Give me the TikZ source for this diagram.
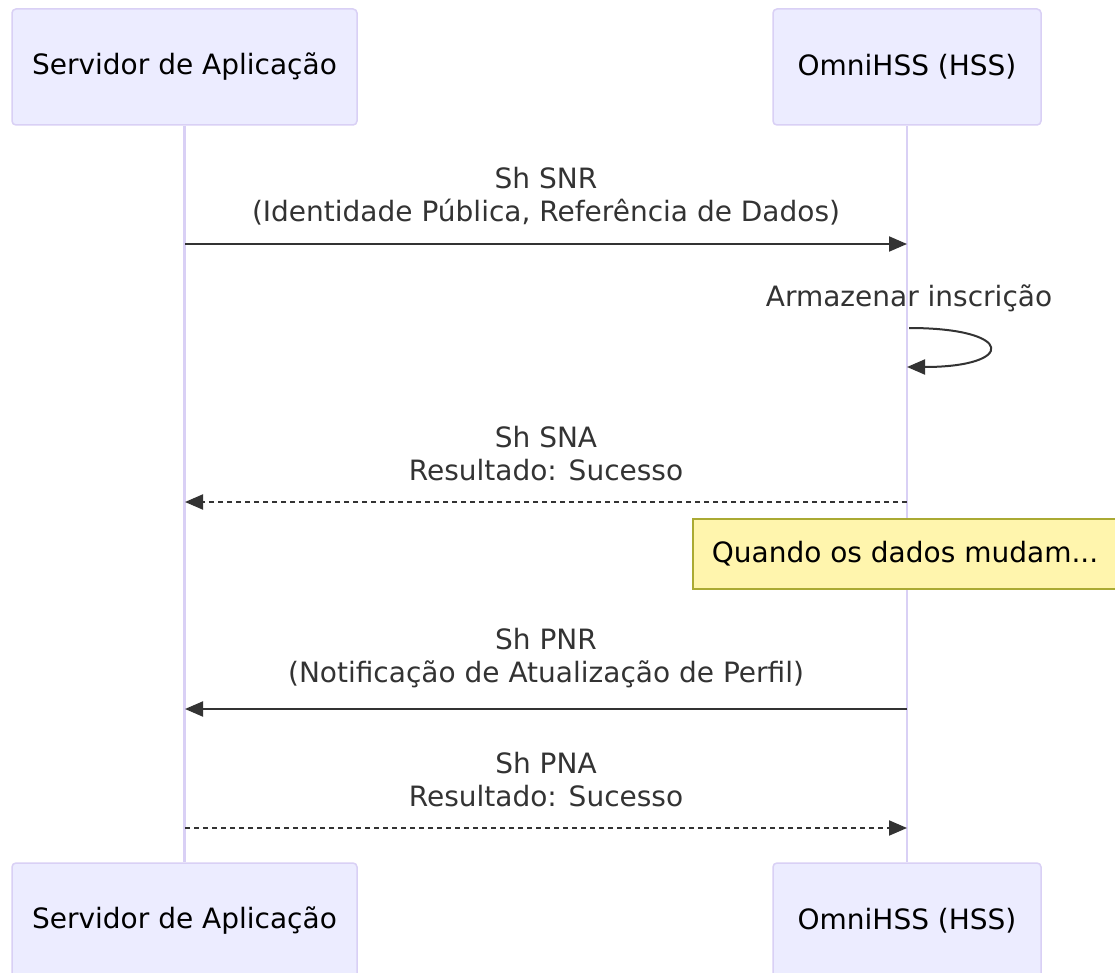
\documentclass[tikz,border=0pt]{standalone}
\usepackage{fontspec}
\setmainfont{DejaVu Sans}
\usetikzlibrary{arrows.meta}

\begin{document}
\begin{tikzpicture}[x=1pt, y=-1pt,
    actor/.style={draw=actorline, fill=actorfill, line width=1.5pt, rounded corners=4pt,
        minimum height=116pt, text=black, font=\fontsize{28}{33}\selectfont},
    lifeline/.style={draw=actorline, line width=2.5pt},
    msgtext/.style={align=center, text=textgray, font=\fontsize{28}{33}\selectfont},
    msg/.style={draw=textgray, line width=2pt, -{Triangle[length=18pt, width=15pt]}},
    reply/.style={msg, dash pattern=on 5pt off 4pt},
    notebox/.style={draw=noteline, fill=notefill, line width=1.2pt, minimum width=424pt,
        minimum height=70pt, text=black, font=\fontsize{28}{33}\selectfont}]
    % Define colors
    \definecolor{actorfill}{HTML}{ECECFF}
    \definecolor{actorline}{HTML}{D9D0F5}
    \definecolor{textgray}{HTML}{333333}
    \definecolor{notefill}{HTML}{FFF5AD}
    \definecolor{noteline}{HTML}{AAAA33}

    % Page size
    \useasboundingbox[fill=white] (0,0) rectangle (1115,973);

    % Actors, top and bottom
    \node[actor, minimum width=345pt] (srvtop) at (184.5,67) {Servidor de Aplicação};
    \node[actor, minimum width=268pt] (hsstop) at (907,67) {OmniHSS (HSS)};
    \node[actor, minimum width=345pt] (srvbot) at (184.5,921) {Servidor de Aplicação};
    \node[actor, minimum width=268pt] (hssbot) at (907,921) {OmniHSS (HSS)};

    % Lifelines
    \draw[lifeline] (srvtop.south) -- (srvbot.north);
    \draw[lifeline] (hsstop.south) -- (hssbot.north);

    % Sh SNR
    \coordinate (snr a) at (185,244);
    \coordinate (snr b) at (907,244);
    \node[msgtext] (snr) at (546,196) {Sh SNR\\(Identidade Pública, Referência de Dados)};
    \draw[msg] (snr a) -- (snr b);

    % Store subscription (self message)
    \coordinate (store a) at (909,328);
    \coordinate (store b) at (907,367);
    \node[msgtext] (store) at (909,298) {Armazenar inscrição};
    \draw[msg] (store a) .. controls (1016,328) and (1016,367) .. (store b);

    % Sh SNA
    \coordinate (sna a) at (907,502);
    \coordinate (sna b) at (185,502);
    \node[msgtext] (sna) at (546,454) {Sh SNA\\Resultado: Sucesso};
    \draw[reply] (sna a) -- (sna b);

    % Note over the HSS
    \node[notebox] (note) at (905,554) {Quando os dados mudam...};

    % Sh PNR
    \coordinate (pnr a) at (907,709);
    \coordinate (pnr b) at (185,709);
    \node[msgtext] (pnr) at (546,658) {Sh PNR\\(Notificação de Atualização de Perfil)};
    \draw[msg] (pnr a) -- (pnr b);

    % Sh PNA
    \coordinate (pna a) at (185,828);
    \coordinate (pna b) at (907,828);
    \node[msgtext] (pna) at (546,780) {Sh PNA\\Resultado: Sucesso};
    \draw[reply] (pna a) -- (pna b);

\end{tikzpicture}
\end{document}
